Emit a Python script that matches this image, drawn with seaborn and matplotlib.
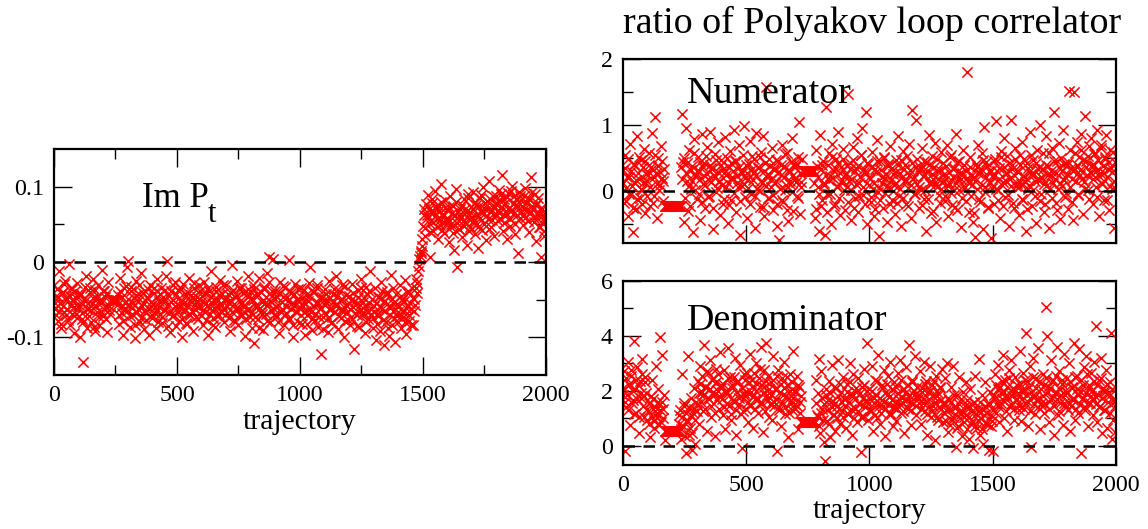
import numpy as np
import matplotlib
matplotlib.use("Agg")
import matplotlib.pyplot as plt
import seaborn as sns
from matplotlib.ticker import FixedLocator, FixedFormatter, NullFormatter

# ---------------- data ----------------
traj_step = 5
traj_a = np.arange(0, 2000, traj_step)          # trajectories 0, 5, 10, ...
traj_b = traj_a + traj_step / 2                  # trajectories 2.5, 7.5, ...

im_p_a = [
    -0.031, -0.062, -0.045, -0.078, -0.012, -0.055, -0.088, -0.040, -0.066, -0.025, -0.071, -0.049, -0.003, -0.083, -0.058, -0.036, -0.094, -0.047, -0.069, -0.028,
    -0.061, -0.099, -0.042, -0.075, -0.133, -0.052, -0.018, -0.087, -0.063, -0.035, -0.079, -0.056, -0.022, -0.091, -0.048, -0.067, -0.030, -0.084, -0.054, -0.010,
    -0.072, -0.038, -0.059, -0.093, -0.027, -0.064, -0.050, -0.050, -0.050, -0.050, -0.050, -0.050, -0.044, -0.082, -0.021, -0.068, -0.097, -0.035, -0.061, -0.006,
    0.002, -0.057, -0.086, -0.033, -0.070, -0.048, -0.101, -0.025, -0.063, -0.042, -0.079, -0.015, -0.055, -0.089, -0.038, -0.066, -0.047, -0.097, -0.030, -0.058,
    -0.074, -0.041, -0.060, -0.088, -0.023, -0.052, -0.069, -0.034, -0.081, -0.046, -0.064, -0.019, 0.001, -0.056, -0.093, -0.039, -0.072, -0.050, -0.027, -0.085,
    -0.061, -0.037, -0.078, -0.053, -0.099, -0.029, -0.066, -0.044, -0.082, -0.057, -0.021, -0.070, -0.048, -0.091, -0.035, -0.063, -0.052, -0.076, -0.031, -0.059,
    -0.045, -0.083, -0.026, -0.067, -0.054, -0.097, -0.038, -0.061, -0.012, -0.074, -0.049, -0.086, -0.033, -0.058, -0.070, -0.024, -0.065, -0.043, -0.080, -0.051,
    -0.030, -0.068, -0.055, -0.092, -0.041, -0.004, -0.077, -0.046, -0.062, -0.025, -0.084, -0.052, -0.035, -0.071, -0.058, -0.098, -0.039, -0.064, -0.019, -0.073,
    -0.048, -0.087, -0.031, -0.108, -0.060, -0.042, -0.075, -0.021, -0.066, -0.053, -0.090, -0.036, -0.069, -0.014, -0.056, 0.007, -0.079, -0.045, 0.004, -0.062,
    -0.038, -0.072, -0.057, -0.094, -0.026, -0.063, -0.047, -0.084, -0.033, -0.068, -0.052, 0.003, -0.076, -0.041, -0.099, -0.058, -0.029, -0.065, -0.049, -0.081,
    -0.060, -0.035, -0.082, -0.053, -0.097, -0.044, -0.070, -0.028, -0.006, -0.066, -0.090, -0.040, -0.077, -0.055, -0.031, -0.086, -0.062, -0.122, -0.047, -0.073,
    -0.036, -0.069, -0.051, -0.093, -0.025, -0.061, -0.080, -0.043, -0.067, -0.018, -0.056, -0.089, -0.038, -0.074, -0.049, -0.064, -0.100, -0.032, -0.058, -0.077,
    -0.045, -0.083, -0.029, -0.060, -0.116, -0.052, -0.071, -0.037, -0.086, -0.057, -0.022, -0.066, -0.048, -0.094, -0.033, -0.075, -0.055, -0.012, -0.069, -0.088,
    -0.058, -0.035, -0.104, -0.070, -0.047, -0.091, -0.026, -0.063, -0.110, -0.052, -0.079, -0.040, -0.098, -0.061, -0.017, -0.084, -0.054, -0.106, -0.043, -0.072,
    -0.066, -0.031, -0.087, -0.050, -0.073, -0.024, -0.095, -0.058, -0.041, -0.078, -0.062, -0.035, -0.083, -0.049, -0.022, -0.041, -0.012, 0.004, 0.012, 0.021,
    0.048, 0.071, 0.035, 0.063, 0.089, 0.052, 0.007, 0.078, 0.041, 0.066, 0.094, 0.057, 0.030, 0.074, 0.049, 0.103, 0.061, 0.038, 0.082, 0.055,
    0.069, 0.026, 0.087, 0.050, 0.075, 0.016, 0.062, 0.097, -0.007, 0.044, 0.071, 0.058, 0.033, 0.084, 0.053, 0.067, 0.022, 0.090, 0.046, 0.073,
    0.060, 0.093, 0.037, 0.076, 0.051, 0.019, 0.085, 0.066, 0.042, 0.099, 0.072, 0.029, 0.081, 0.057, 0.108, 0.046, 0.069, 0.088, 0.034, 0.077,
    0.079, 0.054, 0.096, 0.067, 0.115, 0.041, 0.084, 0.061, 0.030, 0.092, 0.072, 0.048, 0.101, 0.064, 0.087, 0.037, 0.076, 0.012, 0.093, 0.058,
    0.082, 0.049, 0.071, 0.098, 0.060, 0.085, 0.040, 0.067, 0.113, 0.075, 0.053, 0.090, 0.028, 0.079, 0.062, 0.046, 0.006, 0.070, 0.035, 0.057,
]

im_p_b = [
    -0.054, -0.071, -0.036, -0.047, -0.065, -0.082, -0.041, -0.058, -0.029, -0.050, -0.063, -0.077, -0.044, -0.035, -0.069, -0.052, -0.060, -0.039, -0.074, -0.046,
    -0.057, -0.043, -0.068, -0.080, -0.049, -0.033, -0.062, -0.055, -0.072, -0.040, -0.064, -0.048, -0.086, -0.037, -0.059, -0.045, -0.073, -0.051, -0.066, -0.038,
    -0.063, -0.047, -0.076, -0.041, -0.058, -0.069, -0.050, -0.050, -0.050, -0.050, -0.050, -0.057, -0.071, -0.039, -0.060, -0.046, -0.078, -0.054, -0.032, -0.065,
    -0.049, -0.072, -0.038, -0.061, -0.055, -0.083, -0.044, -0.067, -0.052, -0.030, -0.074, -0.058, -0.041, -0.065, -0.077, -0.048, -0.036, -0.062, -0.053, -0.070,
    -0.056, -0.034, -0.068, -0.047, -0.079, -0.060, -0.042, -0.073, -0.051, -0.064, -0.037, -0.058, -0.085, -0.045, -0.066, -0.053, -0.031, -0.070, -0.059, -0.043,
    -0.067, -0.048, -0.059, -0.036, -0.075, -0.054, -0.062, -0.081, -0.040, -0.069, -0.052, -0.044, -0.065, -0.028, -0.057, -0.073, -0.046, -0.060, -0.038, -0.071,
    -0.052, -0.064, -0.041, -0.077, -0.058, -0.035, -0.069, -0.047, -0.055, -0.083, -0.061, -0.039, -0.072, -0.050, -0.044, -0.066, -0.057, -0.030, -0.063, -0.048,
    -0.059, -0.043, -0.074, -0.051, -0.066, -0.037, -0.056, -0.080, -0.045, -0.062, -0.034, -0.070, -0.053, -0.041, -0.067, -0.058, -0.076, -0.047, -0.063, -0.039,
    -0.068, -0.050, -0.036, -0.073, -0.057, -0.044, -0.088, -0.061, -0.040, -0.069, -0.033, -0.055, -0.047, -0.078, -0.026, -0.052, -0.064, -0.038, -0.071, -0.049,
    -0.045, -0.060, -0.079, -0.041, -0.066, -0.053, -0.032, -0.070, -0.058, -0.047, -0.075, -0.039, -0.062, -0.054, -0.084, -0.043, -0.067, -0.050, -0.036, -0.061,
    -0.071, -0.048, -0.059, -0.037, -0.065, -0.082, -0.052, -0.044, -0.063, -0.076, -0.040, -0.058, -0.069, -0.034, -0.055, -0.073, -0.046, -0.061, -0.089, -0.051,
    -0.057, -0.042, -0.074, -0.063, -0.048, -0.081, -0.053, -0.036, -0.067, -0.059, -0.045, -0.072, -0.050, -0.064, -0.031, -0.060, -0.078, -0.044, -0.066, -0.054,
    -0.062, -0.050, -0.075, -0.041, -0.068, -0.056, -0.085, -0.047, -0.064, -0.035, -0.071, -0.053, -0.059, -0.080, -0.043, -0.066, -0.038, -0.061, -0.049, -0.074,
    -0.067, -0.054, -0.082, -0.046, -0.071, -0.060, -0.038, -0.077, -0.052, -0.065, -0.043, -0.088, -0.058, -0.070, -0.049, -0.035, -0.074, -0.062, -0.056, -0.079,
    -0.058, -0.073, -0.045, -0.066, -0.052, -0.080, -0.061, -0.039, -0.070, -0.055, -0.084, -0.048, -0.065, -0.057, -0.035, -0.028, -0.005, 0.008, 0.015, 0.030,
    0.062, 0.045, 0.077, 0.058, 0.070, 0.040, 0.066, 0.083, 0.053, 0.061, 0.074, 0.047, 0.068, 0.056, 0.080, 0.043, 0.064, 0.072, 0.050, 0.059,
    0.057, 0.073, 0.046, 0.065, 0.039, 0.061, 0.080, 0.052, 0.068, 0.044, 0.063, 0.076, 0.055, 0.048, 0.070, 0.060, 0.085, 0.041, 0.066, 0.053,
    0.071, 0.054, 0.080, 0.063, 0.047, 0.075, 0.058, 0.089, 0.066, 0.050, 0.078, 0.061, 0.070, 0.044, 0.083, 0.067, 0.056, 0.074, 0.062, 0.087,
    0.068, 0.082, 0.059, 0.090, 0.073, 0.052, 0.079, 0.065, 0.086, 0.071, 0.057, 0.094, 0.069, 0.077, 0.050, 0.083, 0.062, 0.075, 0.088, 0.066,
    0.074, 0.061, 0.088, 0.069, 0.079, 0.055, 0.083, 0.066, 0.093, 0.072, 0.058, 0.076, 0.064, 0.085, 0.047, 0.070, 0.052, 0.063, 0.041, 0.060,
]

numerator_a = [
    0.32, -0.18, 0.55, 0.05, -0.38, 0.21, 0.71, -0.05, -0.62, 0.40, 0.12, -0.27, 0.83, 0.18, -0.10, 0.47, 0.02, 0.64, -0.33, 0.26,
    0.15, 0.58, -0.22, 0.36, 0.88, -0.08, 1.12, 0.28, -0.41, 0.50, 0.09, 0.69, 0.20, -0.15, -0.23, -0.23, -0.23, -0.23, -0.23, -0.23,
    -0.23, -0.23, -0.23, -0.23, -0.23, -0.23, -0.23, -0.23, 1.17, 0.44, -0.46, 0.95, 0.16, -0.30, 0.62, 0.04, 0.38, -0.62, 0.79, 0.23,
    -0.12, 0.51, 0.30, -0.44, 0.86, 0.11, 0.42, -0.25, 0.67, 0.19, -0.07, 0.90, 0.35, -0.58, 0.25, 0.56, -0.02, 0.74, 0.14, -0.36,
    0.47, -0.20, 0.28, 0.82, 0.06, -0.48, 0.37, 0.61, -0.14, 0.22, 0.93, 0.45, -0.32, 0.13, 0.70, -0.66, 0.31, 0.08, 0.99, -0.09,
    0.40, -0.41, 0.18, 0.76, -0.05, 0.53, 0.27, -0.55, 0.88, 0.03, 0.35, -0.24, 0.60, 0.12, 0.84, -0.38, 1.57, 0.21, -0.10, 0.48,
    0.07, 0.66, -0.28, 0.32, 0.15, -0.52, 0.45, -0.74, 0.24, 0.70, -0.17, 0.38, 0.02, 0.58, -0.45, 0.29, 0.11, 0.80, -0.30, 0.41,
    0.19, -0.08, 0.52, 1.05, -0.35, 0.14, 0.30, 0.30, 0.30, 0.30, 0.30, 0.30, 0.30, 0.30, 0.30, 0.30, -0.41, 0.63, 0.06, -0.60,
    0.85, -0.22, 0.40, 0.12, -0.67, 1.27, -0.05, 0.58, 0.23, -0.50, 0.72, 0.31, -0.19, 0.49, 0.08, 0.90, -0.36, 0.37, 0.17, 0.64,
    -0.28, 0.26, 0.06, 1.47, 0.43, -0.44, 0.18, 0.67, -0.11, 0.35, 0.80, -0.31, 0.12, 0.54, 0.96, -0.06, 0.29, 1.20, -0.49, 0.41,
    0.22, -0.16, 0.60, 0.04, -0.38, 0.33, 0.77, -0.02, -0.68, 0.45, 0.13, -0.26, 0.52, 0.20, -0.47, 0.38, 0.07, 0.69, -0.13, 0.26,
    0.10, -0.34, 0.47, 0.84, -0.08, 0.27, -0.53, 0.61, 0.16, 0.39, -0.20, 0.05, 0.72, 0.32, -0.41, 1.23, 0.21, -0.04, 1.08, 0.49,
    -0.25, 0.36, 0.02, 0.66, -0.12, 0.24, -0.60, 0.44, 0.85, 0.11, -0.33, 0.53, 0.18, 0.73, -0.46, 0.30, 0.08, -0.18, 0.59, 0.14,
    0.42, -0.07, 0.25, 0.70, -0.37, 0.13, 0.55, -0.21, 0.33, 0.01, 0.87, -0.29, 0.19, 0.46, -0.54, 0.28, 0.63, 0.05, -0.15, 1.80,
    0.16, -0.32, 0.51, 0.09, -0.47, 0.22, -0.69, 0.37, 0.70, -0.12, 0.28, 0.58, -0.58, 0.97, 0.06, 0.44, -0.24, 0.31, 0.13, -0.71,
    0.25, -0.19, 0.48, 1.06, 0.02, 0.35, -0.40, 0.61, 0.14, 0.80, -0.09, 0.27, 0.53, -0.52, 0.19, 1.08, 0.40, -0.26, 0.66, 0.08,
    0.31, -0.36, 0.55, 0.11, 0.74, -0.14, 0.22, -0.61, 0.43, 0.03, 0.90, 0.26, -0.23, 0.47, 0.15, -0.48, 0.63, 0.34, 1.00, -0.05,
    0.20, 0.57, -0.31, 0.84, 0.09, 0.38, -0.55, 0.25, 0.66, 0.12, 1.20, -0.18, 0.45, 0.04, 0.73, -0.42, 0.30, 0.92, 0.17, -0.09,
    0.40, -0.27, 1.52, 0.62, 0.18, -0.44, 1.50, 0.33, 0.75, -0.06, 0.51, 0.24, 0.86, -0.35, 0.14, 1.14, 0.46, 0.02, 0.68, 0.29,
    0.81, -0.20, 0.39, 0.58, 0.07, 0.93, -0.38, 0.27, 0.70, 0.12, -0.13, 0.49, 0.85, 0.21, -0.29, 0.62, 0.35, 0.04, -0.55, 0.44,
]

numerator_b = [
    0.12, 0.35, -0.15, 0.22, 0.48, -0.05, 0.30, 0.08, -0.25, 0.41, 0.17, -0.12, 0.28, 0.52, 0.03, -0.20, 0.37, 0.14, 0.45, -0.08,
    0.25, 0.40, 0.06, 0.33, -0.18, 0.21, 0.55, 0.11, 0.38, 0.02, 0.29, 0.46, 0.15, 0.34, -0.23, -0.23, -0.23, -0.23, -0.23, -0.23,
    -0.23, -0.23, -0.23, -0.23, -0.23, -0.23, -0.23, 0.36, 0.18, 0.50, -0.10, 0.27, 0.43, 0.08, -0.22, 0.32, 0.15, 0.58, 0.01, 0.24,
    0.31, -0.04, 0.44, 0.20, -0.17, 0.37, 0.10, 0.53, 0.26, -0.09, 0.40, 0.14, 0.33, -0.26, 0.22, 0.47, 0.05, 0.29, 0.16, 0.39,
    0.09, 0.34, -0.12, 0.25, 0.50, 0.13, -0.21, 0.42, 0.19, 0.30, -0.03, 0.45, 0.23, 0.06, 0.37, -0.15, 0.28, 0.54, 0.11, 0.20,
    0.27, 0.05, 0.41, -0.19, 0.33, 0.17, 0.48, -0.07, 0.24, 0.36, 0.02, 0.51, 0.15, -0.24, 0.30, 0.43, 0.08, 0.26, -0.11, 0.38,
    0.18, -0.06, 0.35, 0.12, 0.47, -0.20, 0.29, 0.04, 0.40, -0.13, 0.22, 0.56, 0.10, -0.28, 0.32, 0.16, 0.44, -0.02, 0.25, 0.37,
    0.14, 0.41, -0.10, 0.28, 0.06, 0.49, 0.30, 0.30, 0.30, 0.30, 0.30, 0.30, 0.30, 0.30, 0.30, 0.12, -0.27, 0.38, 0.21, -0.05,
    0.33, -0.14, 0.46, 0.09, 0.25, -0.31, 0.39, 0.17, -0.04, 0.52, 0.20, -0.22, 0.35, 0.07, 0.43, -0.10, 0.28, 0.13, 0.48, 0.01,
    0.24, 0.40, -0.16, 0.15, 0.33, 0.02, 0.47, -0.25, 0.30, 0.11, 0.38, -0.07, 0.21, 0.55, 0.06, 0.34, -0.19, 0.27, 0.42, 0.10,
    0.19, -0.09, 0.36, 0.13, -0.27, 0.29, 0.45, 0.05, -0.14, 0.32, 0.22, 0.50, -0.03, 0.26, 0.08, 0.41, -0.20, 0.17, 0.35, 0.00,
    0.28, 0.12, -0.18, 0.39, 0.04, 0.47, 0.21, -0.10, 0.33, 0.15, 0.53, -0.23, 0.25, 0.09, 0.42, 0.18, -0.05, 0.36, 0.11, 0.30,
    0.07, 0.34, -0.21, 0.23, 0.46, 0.02, 0.31, -0.12, 0.40, 0.14, 0.26, -0.30, 0.37, 0.10, 0.49, 0.19, -0.06, 0.32, 0.04, 0.24,
    0.16, -0.15, 0.38, 0.08, 0.29, 0.51, -0.03, 0.22, 0.35, -0.24, 0.13, 0.44, 0.01, 0.27, 0.18, -0.11, 0.40, 0.06, 0.31, 0.20,
    0.12, 0.36, -0.08, 0.25, -0.33, 0.15, 0.41, 0.04, 0.28, -0.17, 0.33, 0.09, 0.47, -0.01, 0.21, 0.38, -0.26, 0.14, 0.30, 0.05,
    0.22, 0.45, 0.03, 0.31, -0.14, 0.19, 0.52, 0.10, -0.22, 0.37, 0.16, 0.28, -0.06, 0.43, 0.08, 0.34, -0.18, 0.25, 0.49, 0.13,
    0.29, 0.06, 0.40, -0.12, 0.23, 0.48, 0.14, -0.27, 0.35, 0.09, 0.31, 0.54, 0.02, 0.26, -0.08, 0.42, 0.17, 0.37, -0.15, 0.21,
    0.33, 0.11, -0.20, 0.39, 0.24, 0.57, 0.04, 0.30, -0.10, 0.45, 0.18, 0.27, -0.28, 0.36, 0.13, 0.50, 0.08, 0.41, 0.22, -0.03,
    0.26, 0.44, 0.07, 0.35, -0.16, 0.30, 0.58, 0.15, 0.40, -0.05, 0.32, 0.62, 0.19, 0.47, 0.03, 0.36, 0.25, 0.53, -0.12, 0.28,
    0.39, 0.18, 0.56, 0.30, -0.09, 0.47, 0.23, 0.65, 0.11, 0.38, 0.27, 0.52, -0.14, 0.34, 0.44, 0.08, 0.29, 0.60, 0.16, 0.05,
]

denominator_a = [
    1.85, 2.70, -0.18, 1.40, 3.05, 2.20, 0.75, 2.55, 1.65, 3.80, 2.05, 1.20, 2.85, 0.45, 2.35, 1.75, 3.15, 1.05, 2.50, 1.90,
    0.95, 1.55, 0.30, 1.80, 2.40, 0.65, 1.25, 2.90, 1.05, 1.60, 3.97, 0.85, 3.30, 1.35, 0.20, 0.55, 0.55, 0.55, 0.55, 0.55,
    0.55, 0.55, 0.55, 0.55, 0.55, 0.55, 1.10, 0.25, 2.60, 0.70, 1.45, -0.25, 0.95, 3.25, 0.40, 1.75, -0.15, 1.20, 2.10, 0.05,
    1.50, 2.35, 0.80, 2.90, 1.95, 1.25, 3.65, 2.15, 0.55, 2.65, 1.70, 3.10, 1.05, 2.45, 1.85, 0.35, 2.80, 2.00, 1.35, 3.40,
    2.20, 1.10, 2.75, 0.60, 1.90, 3.55, 1.45, 2.50, 0.95, 2.10, 1.60, 3.20, 0.40, 2.30, 1.75, 2.95, 1.15, -0.10, 2.60, 1.80,
    1.35, 2.65, 0.85, 3.35, 1.95, 2.40, 0.65, 1.70, 3.00, 2.25, 1.20, 2.80, 3.60, 1.55, 0.50, 2.15, 3.75, 1.85, 2.55, 1.05,
    2.30, 0.95, 3.25, 1.60, 2.05, -0.20, 2.75, 1.40, 0.70, 2.45, 1.85, 3.05, 1.15, 2.20, 0.30, 1.75, 2.60, 1.30, 3.45, 2.00,
    1.50, 2.55, 0.60, 2.15, 1.20, 0.85, 0.85, 0.85, 0.85, 0.85, 0.85, 0.85, 0.85, 0.85, 0.85, 0.85, 0.85, 2.40, 1.05, 3.15,
    0.45, 2.70, 1.35, 0.15, -0.55, 1.85, 0.90, 2.35, 0.30, 1.60, 2.95, 1.10, 0.55, 2.10, 1.45, 3.10, 0.80, 1.95, 1.25, 2.50,
    1.70, 0.65, 2.25, 1.15, 3.00, 1.85, 0.40, 2.60, 1.35, 1.95, 0.85, 2.45, 1.50, -0.22, 2.15, 1.05, 2.80, 1.60, 3.75, 0.95,
    2.05, 1.30, 2.90, 0.55, 1.75, 2.40, 1.00, 3.30, 1.55, 0.80, 2.20, 1.45, 2.75, 0.35, 1.85, 2.55, 1.15, 3.05, 1.65, 0.70,
    2.30, 1.40, 0.90, 2.65, 1.70, 3.10, 1.20, 2.05, 0.45, 1.90, 2.85, 1.35, 3.65, 1.60, 0.75, 2.40, 1.85, 3.25, 1.10, 2.15,
    1.55, 2.70, 0.80, 1.95, 3.05, 1.25, 2.35, 0.40, 1.70, 2.90, 1.05, 2.20, 1.45, 0.20, 2.55, 1.80, 0.95, 2.10, 1.35, 2.80,
    0.85, 2.45, 1.30, 3.00, 0.50, 1.65, 2.15, 0.95, 2.90, 1.40, -0.05, 1.85, 0.70, 2.50, 1.15, 0.35, 1.95, 1.05, 2.30, 0.60,
    1.45, 0.25, 2.05, 0.90, -0.10, 1.60, 2.55, 0.65, 1.25, 3.15, 0.40, 1.85, 0.05, 1.10, 2.30, 0.80, 1.50, -0.15, 1.95, 0.70,
    -0.20, 1.75, 2.60, 1.20, 2.95, 0.85, 2.15, 1.55, 3.30, 1.00, 2.40, 1.85, 0.55, 2.75, 1.40, 3.10, 2.00, 0.95, 2.50, 1.65,
    2.20, 1.30, 3.45, 0.90, 1.95, 2.65, 1.55, 4.10, 2.35, 0.70, 2.90, -0.05, 1.80, 3.20, 1.15, 2.45, 1.70, 3.55, 0.60, 2.05,
    1.45, 2.60, 1.20, 5.05, 4.00, 2.15, 0.85, 3.10, 1.75, 2.40, 0.40, 1.95, 3.60, 1.10, 2.70, 1.55, 2.25, 0.75, 3.35, 1.85,
    2.45, 1.30, 3.00, 0.55, 2.10, 1.65, 3.75, 0.95, 2.55, 1.20, 3.50, 2.00, -0.25, 1.75, 2.85, 1.40, 3.25, 0.70, 2.20, 1.55,
    2.65, 1.10, 3.05, 1.80, 4.35, 0.85, 2.40, 1.45, 3.20, 0.45, 2.00, 1.30, 2.75, 0.65, 1.90, 2.30, 4.10, 0.25, 1.60, 0.50,
]

denominator_b = [
    2.10, 1.60, 2.45, 1.85, 1.30, 2.25, 2.75, 1.55, 2.00, 1.15, 2.40, 1.70, 2.20, 1.05, 1.90, 2.60, 1.45, 1.80, 2.30, 1.35,
    1.25, 0.80, 1.55, 1.05, 1.70, 0.90, 1.40, 1.15, 2.05, 0.75, 1.30, 1.60, 1.00, 1.85, 0.55, 0.55, 0.55, 0.55, 0.55, 0.55,
    0.55, 0.55, 0.55, 0.55, 0.55, 0.80, 1.30, 0.60, 1.05, 1.55, 0.35, 1.20, 0.85, 1.40, 0.65, 1.10, 0.45, 1.35, 0.95, 1.60,
    1.25, 1.90, 2.25, 1.60, 2.55, 1.85, 1.35, 2.15, 2.70, 1.75, 2.05, 1.45, 2.40, 1.95, 1.20, 2.30, 1.65, 2.60, 1.80, 2.10,
    1.70, 2.25, 1.40, 2.00, 1.55, 2.45, 1.85, 1.15, 2.20, 1.65, 2.50, 1.30, 1.95, 2.35, 1.50, 1.80, 2.10, 1.25, 1.90, 2.40,
    1.95, 1.60, 2.30, 1.45, 2.15, 1.80, 2.65, 1.35, 2.00, 1.70, 2.45, 1.55, 2.20, 1.90, 2.75, 1.25, 2.35, 1.65, 2.05, 1.50,
    1.85, 2.40, 1.45, 2.05, 1.70, 2.55, 1.30, 1.95, 2.25, 1.60, 2.10, 1.40, 1.80, 2.50, 1.20, 2.00, 1.55, 2.30, 1.75, 1.35,
    1.95, 1.45, 2.20, 1.60, 1.80, 0.85, 0.85, 0.85, 0.85, 0.85, 0.85, 0.85, 0.85, 0.85, 0.85, 0.85, 1.55, 1.10, 1.90, 0.70,
    1.20, 1.75, 0.95, 1.50, 2.05, 1.30, 1.65, 0.80, 1.90, 1.40, 1.10, 2.15, 1.55, 1.00, 1.80, 1.35, 2.25, 1.60, 1.05, 1.70,
    1.45, 1.95, 1.15, 1.60, 2.30, 1.35, 1.85, 1.00, 1.70, 2.10, 1.25, 1.55, 1.90, 1.05, 1.75, 2.20, 1.40, 1.65, 2.00, 1.30,
    1.70, 1.25, 2.00, 1.55, 1.10, 1.85, 2.35, 1.45, 1.75, 1.20, 2.10, 1.60, 1.35, 1.95, 2.25, 1.50, 1.80, 1.15, 2.05, 1.40,
    1.60, 2.15, 1.35, 1.90, 1.50, 2.40, 1.75, 1.25, 2.05, 1.65, 1.40, 2.20, 1.85, 1.30, 2.30, 1.55, 2.00, 1.45, 1.80, 1.70,
    1.85, 1.35, 2.10, 1.55, 1.70, 2.25, 1.15, 1.95, 1.45, 2.00, 1.25, 1.80, 2.35, 1.60, 1.05, 1.90, 1.40, 2.15, 1.65, 1.50,
    1.20, 1.55, 0.90, 1.75, 1.30, 0.75, 1.60, 1.05, 1.85, 1.15, 1.40, 0.65, 1.50, 1.00, 1.70, 1.25, 0.85, 1.45, 1.10, 1.65,
    1.05, 1.40, 0.80, 1.25, 1.55, 0.70, 1.15, 1.35, 0.95, 1.60, 1.00, 0.60, 1.30, 1.45, 0.85, 1.20, 0.75, 1.50, 1.10, 0.90,
    1.30, 1.85, 2.20, 1.55, 2.05, 1.40, 1.90, 2.35, 1.65, 1.95, 1.25, 2.15, 1.75, 2.45, 1.50, 1.80, 2.10, 1.35, 2.00, 1.70,
    1.90, 1.45, 2.25, 1.70, 2.05, 1.35, 2.40, 1.85, 1.60, 2.15, 1.25, 1.95, 2.50, 1.50, 1.80, 2.10, 1.40, 2.30, 1.75, 1.55,
    1.80, 2.20, 1.50, 2.45, 1.95, 1.35, 2.10, 1.65, 2.35, 1.45, 1.90, 2.55, 1.70, 1.25, 2.05, 1.85, 2.40, 1.55, 2.00, 1.40,
    1.95, 1.60, 2.30, 1.45, 2.15, 1.75, 2.50, 1.35, 2.05, 1.85, 1.50, 2.40, 1.70, 2.20, 1.30, 1.90, 2.60, 1.55, 2.10, 1.80,
    2.00, 1.65, 2.35, 1.50, 2.20, 1.85, 1.40, 2.45, 1.75, 2.10, 1.30, 1.95, 2.25, 1.60, 1.80, 1.20, 2.05, 0.95, 1.70, 1.45,
]

x_major = [0, 500, 1000, 1500, 2000]
x_minor = [250, 750, 1250, 1750]
x_labels = ["0", "500", "1000", "1500", "2000"]

imp_major = [-0.1, 0.0, 0.1]
imp_minor = [-0.05, 0.05]
imp_labels = ["-0.1", "0", "0.1"]

num_major = [0, 1, 2]
num_minor = [-0.5, 0.5, 1.5]
num_labels = ["0", "1", "2"]

den_major = [0, 2, 4, 6]
den_minor = [1, 3, 5]
den_labels = ["0", "2", "4", "6"]

# ---------------- style ----------------
sns.set_theme(style="ticks")
plt.rcParams["font.family"] = ["Liberation Serif", "DejaVu Serif"]
plt.rcParams["axes.unicode_minus"] = False

RED = "#ff0000"
TICK_FS = 17.3
LABEL_FS = 21.3
ANN_FS = 27.4

fig = plt.figure(figsize=(11.48, 5.29), dpi=100)
ax_l = fig.add_axes([0.0470, 0.2911, 0.4286, 0.4272])
ax_n = fig.add_axes([0.5424, 0.5412, 0.4297, 0.3473])
ax_d = fig.add_axes([0.5424, 0.1210, 0.4297, 0.3484])

traj_all = np.concatenate([traj_a, traj_b])


def draw(ax, ya, yb, ylim, ymaj, ymin, ylab, xminor, top_ticks, show_xlabels):
    y = np.concatenate([np.asarray(ya), np.asarray(yb)])
    sns.scatterplot(x=traj_all, y=y, ax=ax, marker="x", color=RED, s=54,
                    linewidth=1.1, legend=False, zorder=2)
    ax.axhline(0, color="black", lw=1.8, ls=(0, (4.6, 3.4)), zorder=3)
    ax.set_xlim(0, 2000)
    ax.set_ylim(*ylim)
    ax.xaxis.set_major_locator(FixedLocator(x_major))
    if xminor:
        ax.xaxis.set_minor_locator(FixedLocator(x_minor))
    ax.yaxis.set_major_locator(FixedLocator(ymaj))
    ax.yaxis.set_major_formatter(FixedFormatter(ylab))
    ax.yaxis.set_minor_locator(FixedLocator(ymin))
    if show_xlabels:
        ax.xaxis.set_major_formatter(FixedFormatter(x_labels))
    else:
        ax.xaxis.set_major_formatter(NullFormatter())
    ax.tick_params(axis="both", which="major", direction="in", length=13,
                   width=1.0, color="black", labelsize=TICK_FS, labelcolor="black")
    ax.tick_params(axis="both", which="minor", direction="in", length=7,
                   width=1.0, color="black")
    ax.tick_params(axis="y", which="both", left=True, right=True, pad=7)
    ax.tick_params(axis="x", which="both", bottom=True, top=top_ticks, pad=7)
    for sp in ax.spines.values():
        sp.set_visible(True)
        sp.set_linewidth(1.6)
        sp.set_color("black")
    ax.set_ylabel("")
    ax.set_xlabel("")


draw(ax_l, im_p_a, im_p_b, (-0.15, 0.15), imp_major, imp_minor, imp_labels, True, True, True)
draw(ax_n, numerator_a, numerator_b, (-0.78, 2.0), num_major, num_minor, num_labels, False, False, False)
draw(ax_d, denominator_a, denominator_b, (-0.7, 6.0), den_major, den_minor, den_labels, False, False, True)

ax_l.set_xlabel("trajectory", fontsize=LABEL_FS, labelpad=2, color="black")
ax_d.set_xlabel("trajectory", fontsize=LABEL_FS, labelpad=2, color="black")

ax_l.text(0.178, 0.745, "Im P", transform=ax_l.transAxes, fontsize=25,
          ha="left", va="baseline", color="black")
ax_l.text(0.313, 0.678, "t", transform=ax_l.transAxes, fontsize=22,
          ha="left", va="baseline", color="black")
ax_n.text(0.130, 0.760, "Numerator", transform=ax_n.transAxes, fontsize=ANN_FS,
          ha="left", va="baseline", color="black")
ax_d.text(0.130, 0.7325, "Denominator", transform=ax_d.transAxes, fontsize=ANN_FS,
          ha="left", va="baseline", color="black")

fig.text(872 / 1148, 1 - 33 / 529, "ratio of Polyakov loop correlator",
         fontsize=ANN_FS, ha="center", va="baseline", color="black")

fig.savefig("out.png", dpi=100)
